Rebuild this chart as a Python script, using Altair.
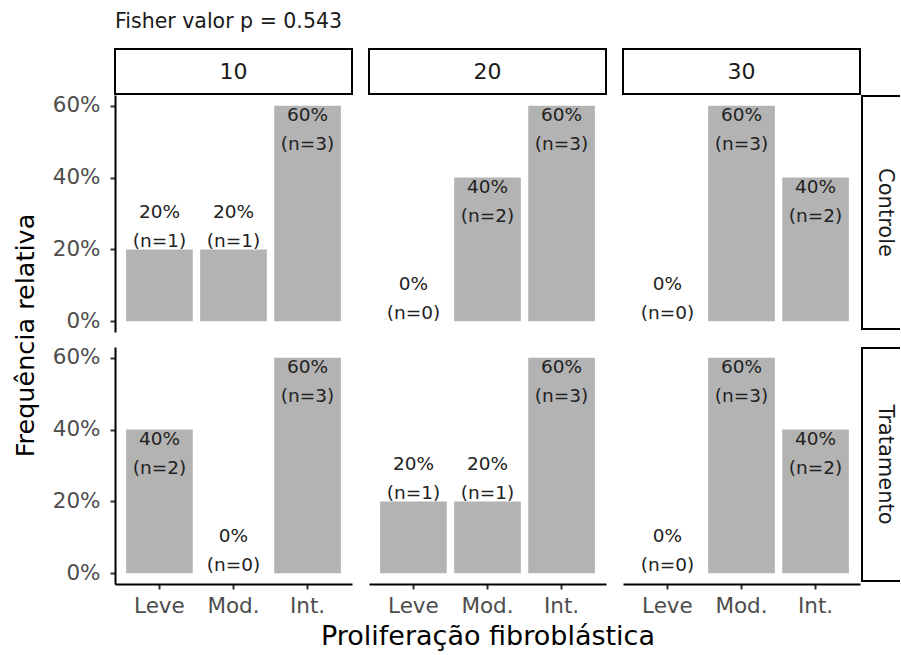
import altair as alt
import pandas as pd

# ---- data ----
tempos = ["10", "20", "30"]
grupos = ["Controle", "Tratamento"]
graus = ["Leve", "Mod.", "Int."]
n_controle = {"10": [1, 1, 3], "20": [0, 2, 3], "30": [0, 3, 2]}
n_tratamento = {"10": [2, 0, 3], "20": [1, 1, 3], "30": [0, 3, 2]}
y_ticks = [0, 0.2, 0.4, 0.6]
titulo = "Fisher valor p = 0.543"
x_titulo = "Proliferação fibroblástica"
y_titulo = "Frequência relativa"

counts = {"Controle": n_controle, "Tratamento": n_tratamento}
rows = []
for g in grupos:
    for t in tempos:
        c = counts[g][t]
        tot = sum(c)
        for k, grau in enumerate(graus):
            p = c[k] / tot
            rows.append(dict(tempo=t, grupo=g, grau=grau, n=c[k], pct=p,
                             label=f"{round(p * 100)}%\n(n={c[k]})"))
df = pd.DataFrame(rows)

FONT = "DejaVu Sans"
PW, PH = 237, 237
ROW_GAP, COL_GAP = 15, 17
STRIP_H = 45          # height of the top strip cell
SW = 23               # width of the right strip column
LBL = 18.5            # bar label font size
LH = 29               # bar label line height


def panel(t, g, first_col, bottom_row, x_title):
    if bottom_row:
        xax = alt.Axis(labelAngle=0, labelFontSize=21.5, labelColor="#4d4d4d",
                       tickColor="#333333", tickWidth=2, tickSize=5,
                       labelPadding=6, domainColor="black", domainWidth=2,
                       titleFontSize=27, titleFontWeight="normal",
                       titleColor="black", titlePadding=7, labelFont=FONT,
                       titleFont=FONT)
    else:
        xax = None
    if first_col:
        yax = alt.Axis(values=y_ticks, format=".0%", labelFontSize=21.5,
                       labelColor="#4d4d4d", tickColor="#333333", tickWidth=2,
                       tickSize=5, labelPadding=10, domainColor="black",
                       domainWidth=2, grid=False, titleFontSize=25.5,
                       titleFontWeight="normal", titleColor="black",
                       titleAngle=270, titleX=-90, titleY=PH + 3,
                       titleAlign="center", titleBaseline="middle",
                       labelFont=FONT, titleFont=FONT)
    else:
        yax = None
    xenc = alt.X("grau:N", sort=graus,
                 scale=alt.Scale(domain=graus, paddingInner=0.1, paddingOuter=0.15),
                 axis=xax, title=x_title if x_title else None)
    yenc = alt.Y("pct:Q",
                 scale=alt.Scale(domain=[-0.03, 0.63], nice=False, zero=False),
                 axis=yax,
                 title=y_titulo if (first_col and not bottom_row) else None)
    base = alt.Chart(df).transform_filter(
        (alt.datum.tempo == t) & (alt.datum.grupo == g)
    ).encode(x=xenc, y=yenc)
    bars = base.mark_bar(color="#b3b3b3")
    txt_in = base.transform_filter(alt.datum.pct >= 0.3).mark_text(
        baseline="top", lineBreak="\n", lineHeight=LH, fontSize=LBL,
        color="#222222", font=FONT).encode(text="label:N")
    txt_out = base.transform_filter(alt.datum.pct < 0.3).mark_text(
        baseline="bottom", lineBreak="\n", lineHeight=LH, fontSize=LBL,
        color="#222222", font=FONT, dy=-27).encode(text="label:N")
    return alt.layer(bars, txt_in, txt_out).properties(width=PW, height=PH)


def strip_top(t):
    d = pd.DataFrame({"lab": [t]})
    y0 = STRIP_H + ROW_GAP - 46   # box spans [y0, y0+45] in cell coordinates
    box = alt.Chart(d).mark_rect(fill="white", stroke="black", strokeWidth=2).encode(
        x=alt.value(0), x2=alt.value(PW), y=alt.value(y0), y2=alt.value(y0 + 45))
    lab = alt.Chart(d).mark_text(fontSize=22, color="#1a1a1a", font=FONT).encode(
        text="lab:N", x=alt.value(PW / 2), y=alt.value(y0 + 22.5))
    return alt.layer(box, lab).properties(width=PW, height=STRIP_H)


def strip_right(g):
    d = pd.DataFrame({"lab": [g]})
    x0 = 2 - COL_GAP
    y0, y1 = 1, PH - 3
    fill = alt.Chart(d).mark_rect(fill="white").encode(
        x=alt.value(x0), x2=alt.value(SW), y=alt.value(y0), y2=alt.value(y1))
    left = alt.Chart(d).mark_rule(color="black", strokeWidth=2).encode(
        x=alt.value(x0), y=alt.value(y0), y2=alt.value(y1))
    top = alt.Chart(d).mark_rule(color="black", strokeWidth=2).encode(
        x=alt.value(x0 - 1), x2=alt.value(SW), y=alt.value(y0))
    bot = alt.Chart(d).mark_rule(color="black", strokeWidth=2).encode(
        x=alt.value(x0 - 1), x2=alt.value(SW), y=alt.value(y1))
    lab = alt.Chart(d).mark_text(fontSize=21, color="#1a1a1a", angle=90,
                                 font=FONT).encode(
        text="lab:N", x=alt.value(x0 + 23), y=alt.value((y0 + y1) / 2))
    return alt.layer(fill, left, top, bot, lab).properties(width=SW, height=PH)


def empty_cell():
    d = pd.DataFrame({"a": [0]})
    return alt.Chart(d).mark_point(opacity=0).encode(
        x=alt.value(0), y=alt.value(0)).properties(width=SW, height=STRIP_H)


cells = [strip_top(t) for t in tempos] + [empty_cell()]
for gi, g in enumerate(grupos):
    bottom = gi == len(grupos) - 1
    for ti, t in enumerate(tempos):
        cells.append(panel(t, g, ti == 0, bottom,
                           x_titulo if (bottom and ti == 1) else None))
    cells.append(strip_right(g))

chart = alt.concat(*cells, columns=4, spacing={"row": ROW_GAP, "column": COL_GAP},
                   bounds="flush").properties(
    title=alt.TitleParams(titulo, anchor="start", frame="group", fontSize=20.5,
                          fontWeight="normal", color="#1a1a1a", font=FONT,
                          offset=0),
    padding={"left": 13, "top": 11, "right": 0, "bottom": 5},
).configure(font=FONT).configure_view(stroke=None)

chart.save("out.html", embed_options={"renderer": "svg", "actions": False})
